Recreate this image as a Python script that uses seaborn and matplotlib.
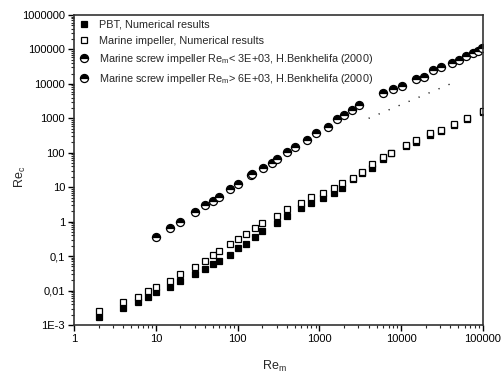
import matplotlib
matplotlib.use("Agg")
import matplotlib.pyplot as plt
import matplotlib.ticker as mticker
import seaborn as sns

# ---------------- data ----------------
pbt_x = [2, 4, 6, 8, 10, 15, 20, 30, 40, 50, 60, 80, 100, 125, 165, 200, 300, 400,
         600, 800, 1100, 1500, 1900, 2600, 3300, 4400, 6000, 7600, 11500, 15200,
         22600, 30800, 44000, 63000, 100000]
pbt_y = [0.00166, 0.0032, 0.0046, 0.0063, 0.0089, 0.013, 0.0186, 0.0295, 0.042,
         0.058, 0.071, 0.11, 0.17, 0.22, 0.35, 0.53, 0.89, 1.44, 2.45, 3.6, 4.8,
         6.7, 9.4, 17, 25.6, 35.6, 65, 97, 155, 204, 330, 430, 650, 980, 1550]

mar_x = pbt_x
mar_y = [0.0025, 0.0046, 0.0067, 0.0095, 0.013, 0.0186, 0.0295, 0.047, 0.071,
         0.105, 0.137, 0.22, 0.31, 0.43, 0.64, 0.89, 1.44, 2.3, 3.6, 5.1, 6.7,
         9.4, 13.1, 18.3, 27, 47, 75, 97, 166, 233, 372, 460, 680, 1000, 1650]

benk1_x = [10, 15, 20, 30, 40, 50, 60, 80, 100, 145, 150, 205, 260, 305, 405, 510,
           710, 920, 1260, 1660, 2020, 2520, 3090]
benk1_y = [0.35, 0.64, 1.0, 1.85, 3.0, 3.9, 5.1, 8.7, 12.3, 22, 24, 35, 50, 64,
           105, 145, 235, 372, 550, 960, 1230, 1740, 2400]

benk2_x = [6000, 8000, 10300, 15200, 19100, 24600, 30800, 41900, 51000, 62000,
           75000, 87000, 98000]
benk2_y = [5350, 7080, 8700, 13800, 15900, 25000, 30900, 40200, 49000, 64000,
           79000, 89000, 110000]

dot_x = [4000, 40000]
dot_y = [1000, 10000]

labels = ["PBT, Numerical results",
          "Marine impeller, Numerical results",
          r"Marine screw impeller Re$_\mathregular{m}$< 3E+03, H.Benkhelifa (2000)",
          r"Marine screw impeller Re$_\mathregular{m}$> 6E+03, H.Benkhelifa (2000)"]

xticks = [1, 10, 100, 1000, 10000, 100000]
xtick_labels = ["1", "10", "100", "1000", "10000", "100000"]
yticks = [1e-3, 1e-2, 1e-1, 1, 10, 100, 1000, 10000, 100000, 1000000]
ytick_labels = ["1E-3", "0,01", "0,1", "1", "10", "100", "1000", "10000",
                "100000", "1000000"]

# ---------------- style ----------------
sns.set_style("ticks")
plt.rcParams["font.family"] = ["Liberation Sans", "DejaVu Sans"]
plt.rcParams["mathtext.fontset"] = "custom"
plt.rcParams["mathtext.rm"] = "Liberation Sans"

fig = plt.figure(figsize=(5.02, 3.76), dpi=100)
ax = fig.add_axes([74 / 502, 1 - 325 / 376, (483 - 74) / 502, (325 - 15) / 376])

common = dict(ax=ax, estimator=None, linestyle="", color="black",
              markeredgecolor="black", markeredgewidth=0.9)

sns.lineplot(x=pbt_x, y=pbt_y, marker="s", markersize=4.4,
             markerfacecolor="black", label=labels[0], **common)
sns.lineplot(x=mar_x, y=mar_y, marker="s", markersize=4.4,
             markerfacecolor="white", label=labels[1], **common)
sns.lineplot(x=benk1_x, y=benk1_y, marker="o", markersize=5.8, fillstyle="top",
             markerfacecolor="black", markerfacecoloralt="white",
             label=labels[2], **common)
sns.lineplot(x=benk2_x, y=benk2_y, marker="o", markersize=5.8, fillstyle="top",
             markerfacecolor="black", markerfacecoloralt="white",
             label=labels[3], **common)
sns.lineplot(x=dot_x, y=dot_y, ax=ax, estimator=None, color="black",
             linestyle=(0, (0.8, 7)), linewidth=1.0)

ax.set_xscale("log")
ax.set_yscale("log")
ax.set_xlim(1, 100000)
ax.set_ylim(1e-3, 1e6)

ax.set_xticks(xticks)
ax.set_xticklabels(xtick_labels)
ax.set_yticks(yticks)
ax.set_yticklabels(ytick_labels)
ax.xaxis.set_minor_locator(mticker.LogLocator(base=10, subs=range(2, 10), numticks=20))
ax.yaxis.set_minor_locator(mticker.LogLocator(base=10, subs=range(2, 10), numticks=20))
ax.xaxis.set_minor_formatter(mticker.NullFormatter())
ax.yaxis.set_minor_formatter(mticker.NullFormatter())

ax.tick_params(axis="both", which="major", direction="out", length=4.5,
               width=1.0, labelsize=8, colors="black", pad=2)
ax.tick_params(axis="both", which="minor", direction="out", length=2.5, width=0.8)

for sp in ax.spines.values():
    sp.set_linewidth(1.2)
    sp.set_color("#333333")

ax.set_xlabel(r"Re$_\mathregular{m}$", fontsize=9)
ax.set_ylabel(r"Re$_\mathregular{c}$", fontsize=9)
ax.xaxis.set_label_coords(0.489, -0.108)
ax.yaxis.set_label_coords(-0.112, 0.477)

handles = ax.lines[:4]
ax.legend(handles=handles, labels=labels, loc="upper left", frameon=False,
          fontsize=7.8, handlelength=1.0, handletextpad=0.9,
          borderaxespad=0.15, borderpad=0.3, labelspacing=0.55)

fig.savefig("out.png", dpi=100)
